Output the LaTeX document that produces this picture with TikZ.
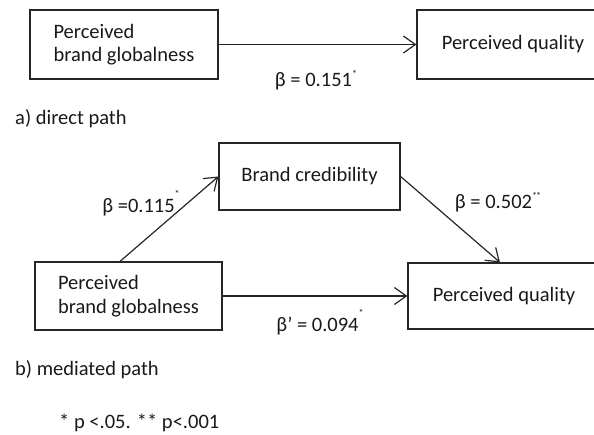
\documentclass[tikz,border=0pt]{standalone}
\usepackage{fontspec}
\setmainfont{Carlito}
\usetikzlibrary{arrows.meta}
\newcommand\mystar{\raisebox{0.9ex}{\fontsize{10}{10}\selectfont *}}
\newcommand\mystarhi{\raisebox{1.5ex}{\fontsize{10}{10}\selectfont *}}
\begin{document}
\begin{tikzpicture}[x=1pt,y=-1pt,
  box/.style={draw=black!85, line width=1.2pt, rectangle, inner sep=0pt,
    font=\fontsize{20.5}{23.5}\selectfont, align=left, text=black!90},
  arr/.style={draw=black!85, line width=1.2pt,
    -{Straight Barb[length=12pt,width=17pt,line width=1.2pt]}},
  lbl/.style={font=\fontsize{20.5}{23.5}\selectfont, inner sep=0pt, text=black!90},
]
\path[use as bounding box] (0,0) rectangle (594,435);
\clip (0,0) rectangle (594,435);

% a) direct path
\node[box, minimum width=188pt, minimum height=69pt] (b1) at (124,44.5) {Perceived\\brand globalness};
\node[box, minimum width=192pt, minimum height=69pt] (b2) at (513,44.5) {Perceived quality};
\draw[arr] (b1.east) -- (b2.west);
\node[lbl] (l1) at (316,80) {β = 0.151\mystar};
\node[lbl, anchor=west] (ta) at (15,119) {a) direct path};

% b) mediated path
\node[box, minimum width=181pt, minimum height=67pt] (b3) at (309.5,176.5) {Brand credibility};
\node[box, minimum width=187pt, minimum height=68pt] (b4) at (128.5,296) {Perceived\\brand globalness};
\node[box, minimum width=192pt, minimum height=66pt] (b5) at (504,296) {Perceived quality};
\draw[arr] ([xshift=-8.5pt]b4.north) -- (b3.west);
\draw[arr] (b3.east) -- ([xshift=-4pt]b5.north);
\draw[arr] (b4.east) -- (b5.west);
\node[lbl] (l2) at (141,203) {β =0.115\mystarhi};
\node[lbl] (l3) at (498,202) {β = 0.502\mystar\kern-1pt\mystar};
\node[lbl] (l4) at (320,322) {β’ = 0.094\mystarhi};
\node[lbl, anchor=west] (tb) at (15,370) {b) mediated path};
\node[lbl, anchor=west] (fn) at (59,423) {* p <.05. ** p<.001};
\end{tikzpicture}
\end{document}
